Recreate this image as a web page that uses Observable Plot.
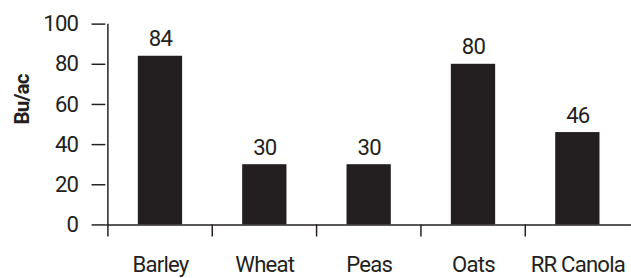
<!DOCTYPE html>
<html><head><meta charset="utf-8">
<script src="https://cdn.jsdelivr.net/npm/d3@7"></script>
<script src="https://cdn.jsdelivr.net/npm/@observablehq/plot@0.6"></script>
<style>
html,body{margin:0;padding:0;background:#fff;overflow:hidden}
#chart{width:631px;height:278px;overflow:hidden}
#chart svg text{letter-spacing:-0.8px}
</style></head><body><div id="chart"></div>
<script>
const crops = ["Barley", "Wheat", "Peas", "Oats", "RR Canola"];
const yields = [84, 30, 30, 80, 46];
const yTicks = [0, 20, 40, 60, 80, 100];
const yTitle = "Bu/ac";

const data = crops.map((c, i) => ({crop: c, value: yields[i]}));

const W = 641, ML = 107, MR = 0;
const step = (W - ML - MR) / crops.length;
const ink = "#231f20";
const font = "'Liberation Sans Narrow',Roboto,sans-serif";

const plot = Plot.plot({
  width: W, height: 278,
  marginLeft: ML, marginRight: MR, marginTop: 24, marginBottom: 50,
  style: {fontFamily: font, fontSize: "22.5px", color: ink, background: "#fff", overflow: "visible"},
  x: {domain: crops, paddingInner: 0.58, paddingOuter: 0.29, label: null},
  y: {domain: [0, 100], label: null},
  marks: [
    Plot.barY(data, {x: "crop", y: "value", fill: ink}),
    Plot.ruleY([0], {stroke: ink, strokeWidth: 1.5}),
    Plot.ruleX(crops, {x: d => d, y1: -6, y2: 0, dx: -step / 2, stroke: ink, strokeWidth: 1.5}),
    Plot.ruleX([crops[0]], {x: d => d, y1: 0, y2: 100, dx: -step / 2, stroke: ink, strokeWidth: 1.5}),
    Plot.axisY({ticks: yTicks, tickSize: 14, tickPadding: 14, label: null, strokeWidth: 1.5}),
    Plot.axisX({tickSize: 0, tickPadding: 32, label: null}),
    Plot.text(data, {x: "crop", y: "value", text: d => String(d.value), dy: -10, lineAnchor: "bottom"}),
    Plot.text([yTitle], {frameAnchor: "left", dx: -85, rotate: -90, fontWeight: "bold", fontSize: 21})
  ]
});
document.getElementById("chart").appendChild(plot);
</script>
</body></html>
